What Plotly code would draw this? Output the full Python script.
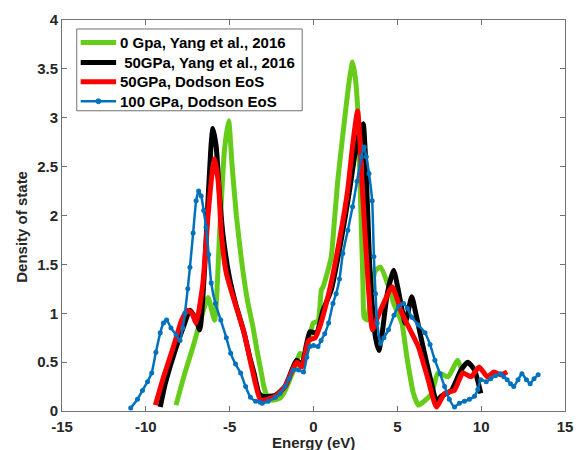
import plotly.graph_objects as go

# ---- data ----
x_0gpa = [-8.2, -7.67, -7.18, -6.69, -6.29, -5.9, -5.6, -5.31, -5.06, -4.85, -4.6, -4.3, -3.94, -3.6,
          -3.35, -3.1, -2.96, -2.76, -2.47, -2.0, -1.69, -1.4, -1.1, -0.81, -0.5, -0.22, -0.02, 0.27,
          0.47, 0.57, 0.8, 1.06, 1.25, 1.45, 1.7, 1.94, 2.15, 2.33, 2.5, 2.63, 2.82, 2.95, 3.02, 3.2,
          3.5, 3.7, 4.0, 4.49, 4.78, 5.27, 5.57, 5.96, 6.25, 6.6, 7.04, 7.43, 8.02, 8.6, 8.9]
y_0gpa = [0.06, 0.39, 0.66, 0.96, 1.16, 0.93, 1.82, 2.67, 2.97, 2.5, 2.0, 1.55, 1.13, 0.85,
          0.6, 0.38, 0.25, 0.15, 0.11, 0.13, 0.21, 0.33, 0.45, 0.59, 0.55, 0.76, 0.9, 0.92,
          1.24, 1.27, 1.4, 1.58, 1.95, 2.36, 2.75, 3.11, 3.4, 3.57, 3.4, 3.11, 2.09, 1.3, 0.96, 0.93,
          1.3, 1.44, 1.47, 1.27, 1.1, 0.9, 0.55, 0.18, 0.06, 0.1, 0.18, 0.39, 0.35, 0.52, 0.39]

x_50yang = [-9.14, -8.84, -8.25, -7.76, -7.37, -7.05, -6.78, -6.49, -6.29, -6.1, -6.0, -5.8, -5.6,
            -5.41, -5.02, -4.65, -4.14, -3.8, -3.55, -3.25, -3.0, -2.27, -1.7, -1.0, -0.7, -0.22,
            0.18, 0.57, 1.06, 1.6, 2.1, 2.45, 2.75, 2.96, 3.1, 3.22, 3.35, 3.51, 3.7, 3.9, 4.1, 4.4,
            4.78, 5.1, 5.47, 5.86, 6.1, 6.45, 7.04, 7.33, 7.6, 8.22, 8.8, 9.2, 9.6, 9.98]
y_50yang = [0.04, 0.28, 0.62, 0.86, 1.03, 0.95, 0.83, 1.47, 2.16, 2.74, 2.89, 2.7, 2.2,
            1.82, 1.37, 1.1, 0.8, 0.55, 0.39, 0.18, 0.15, 0.16, 0.25, 0.52, 0.47, 0.81,
            0.8, 1.03, 1.24, 1.7, 2.2, 2.6, 2.85, 2.94, 2.6, 2.09, 1.5, 1.07, 0.75, 0.62, 0.8, 1.2,
            1.44, 1.2, 0.9, 1.17, 1.0, 0.72, 0.28, 0.1, 0.15, 0.21, 0.42, 0.5, 0.42, 0.18]

x_50dodson = [-9.43, -8.94, -8.35, -7.86, -7.53, -7.25, -7.0, -6.6, -6.29, -6.0, -5.9, -5.67, -5.5,
              -5.2, -4.73, -4.14, -3.65, -3.16, -2.7, -2.2, -1.7, -1.3, -1.0, -0.7, -0.3, 0.1, 0.37,
              0.96, 1.55, 2.04, 2.37, 2.63, 2.92, 3.22, 3.51, 3.8, 4.1, 4.69, 5.27, 5.67, 6.25, 6.84,
              7.33, 7.82, 8.4, 8.9, 9.4, 9.88, 10.37, 10.76, 11.15, 11.55]
y_50dodson = [0.06, 0.35, 0.66, 0.93, 1.03, 1.0, 0.9, 1.3, 2.0, 2.5, 2.58, 2.33, 1.82,
              1.41, 1.13, 0.8, 0.42, 0.11, 0.12, 0.16, 0.25, 0.4, 0.5, 0.45, 0.72, 0.75, 0.86,
              1.24, 1.75, 2.26, 2.77, 3.07, 2.26, 1.41, 0.83, 0.95, 1.07, 1.27, 1.0, 0.86, 0.66, 0.32,
              0.04, 0.18, 0.21, 0.39, 0.35, 0.45, 0.35, 0.4, 0.37, 0.4]

x_100dodson = [-10.9, -10.5, -10.2, -9.9, -9.65, -9.4, -9.14, -8.95, -8.76, -8.5, -8.2, -7.96, -7.8,
               -7.67, -7.5, -7.37, -7.18, -7.0, -6.85, -6.7, -6.55, -6.41, -6.25, -6.1, -5.85, -5.53,
               -5.2, -4.94, -4.65, -4.35, -4.05, -3.76, -3.45, -3.18, -3.06, -2.7, -2.27, -2.0, -1.7,
               -1.45, -1.2, -0.9, -0.6, -0.4, -0.22, 0.0, 0.27, 0.45, 0.67, 0.9, 1.16, 1.35, 1.55, 1.75,
               2.05, 2.33, 2.6, 2.85, 3.02, 3.15, 3.31, 3.5, 3.6, 3.7, 3.8, 4.0, 4.2, 4.47, 4.8, 5.08,
               5.37, 5.6, 5.86, 6.25, 6.65, 6.95, 7.24, 7.55, 7.82, 8.1, 8.41, 8.7, 9.0, 9.3, 9.6, 9.8,
               9.98, 10.3, 10.57, 10.85, 11.15, 11.35, 11.55, 11.75, 11.94, 12.2, 12.43, 12.7, 12.92,
               13.15, 13.4]
y_100dodson = [0.03, 0.12, 0.21, 0.3, 0.39, 0.6, 0.8, 0.9, 0.93, 0.85, 0.78, 0.72, 0.85,
               1.0, 1.25, 1.47, 1.82, 2.15, 2.25, 2.2, 2.05, 1.88, 1.6, 1.31, 1.1, 0.93,
               0.75, 0.59, 0.48, 0.39, 0.25, 0.14, 0.1, 0.09, 0.08, 0.1, 0.14, 0.18, 0.25,
               0.33, 0.42, 0.42, 0.4, 0.55, 0.66, 0.67, 0.66, 0.72, 0.79, 0.9, 1.1, 1.2, 1.35, 1.61,
               1.85, 2.09, 2.35, 2.6, 2.7, 2.6, 2.43, 2.15, 1.58, 1.2, 0.9, 0.69, 0.75, 0.83, 0.98, 1.07,
               1.1, 1.05, 0.96, 0.88, 0.8, 0.68, 0.52, 0.38, 0.25, 0.12, 0.04, 0.08, 0.1, 0.12, 0.15, 0.22,
               0.32, 0.3, 0.33, 0.36, 0.38, 0.35, 0.32, 0.28, 0.25, 0.32, 0.38, 0.32, 0.28,
               0.33, 0.37]

names = ["0 Gpa, Yang et al., 2016", "\u00a050GPa, Yang et al., 2016",
         "50GPa, Dodson EoS", "100 GPa, Dodson EoS"]
colors = ["#66CC1A", "#000000", "#FF0000", "#0072BD"]
x_ticks = [-15, -10, -5, 0, 5, 10, 15]
x_ticklabels = ["-15", "-10", "-5", "0", "5", "10", "15"]
y_ticks = [0, 0.5, 1, 1.5, 2, 2.5, 3, 3.5, 4]
y_ticklabels = ["0", "0.5", "1", "1.5", "2", "2.5", "3", "3.5", "4"]

FONT = "Liberation Sans, Arial, sans-serif"
AXC = "#707070"
TXT = "#262626"

W, H = 584, 450
ML, MR, MT, MB = 62, 11, 19, 39
PW, PH = W - ML - MR, H - MT - MB


def px(xv):  # page pixel -> paper fraction
    return (xv - ML) / PW


def py(yv):
    return (H - MB - yv) / PH


fig = go.Figure()
series = [(x_0gpa, y_0gpa), (x_50yang, y_50yang), (x_50dodson, y_50dodson)]
for (xs, ys), nm, col in zip(series, names[:3], colors[:3]):
    fig.add_trace(go.Scatter(x=xs, y=ys, mode="lines", name=nm, showlegend=False,
                             line=dict(color=col, width=5, shape="spline", smoothing=0.5)))
fig.add_trace(go.Scatter(x=x_100dodson, y=y_100dodson, mode="lines+markers", name=names[3],
                         showlegend=False,
                         line=dict(color=colors[3], width=2.5, shape="spline", smoothing=0.5),
                         marker=dict(color=colors[3], size=5, symbol="circle")))

axis_common = dict(showline=True, linecolor=AXC, linewidth=1, mirror="ticks",
                   ticks="inside", ticklen=5, tickcolor=AXC, showgrid=False, zeroline=False,
                   tickfont=dict(family=FONT, size=15, color=TXT, weight="bold"))

# legend drawn by hand (box, samples, labels) to match the reference's compact layout
shapes = [dict(type="rect", xref="paper", yref="paper", x0=px(77), x1=px(306),
               y0=py(110), y1=py(28), line=dict(color=AXC, width=1), fillcolor="white", layer="above")]
annotations = []
row_y = [41.5, 61.5, 81, 100.5]
for nm, col, ry in zip(names, colors, row_y):
    lw = 2.5 if col == colors[3] else 5
    shapes.append(dict(type="line", xref="paper", yref="paper", x0=px(81), x1=px(117),
                       y0=py(ry), y1=py(ry), line=dict(color=col, width=lw), layer="above"))
    annotations.append(dict(text=nm, xref="paper", yref="paper", x=px(119), y=py(ry),
                            xanchor="left", yanchor="middle", showarrow=False,
                            font=dict(family=FONT, size=15, color="#000000", weight="bold")))
shapes.append(dict(type="circle", xref="paper", yref="paper", x0=px(96.5), x1=px(101.5),
                   y0=py(row_y[3] + 2.5), y1=py(row_y[3] - 2.5),
                   line=dict(color=colors[3], width=1), fillcolor=colors[3], layer="above"))

annotations += [
    dict(text="Energy (eV)", xref="paper", yref="paper", x=0.5, y=0, yshift=-21,
         xanchor="center", yanchor="top", showarrow=False,
         font=dict(family=FONT, size=15, color=TXT, weight="bold")),
    dict(text="Density of state", xref="paper", yref="paper", x=0, y=0.47, xshift=-30,
         xanchor="right", yanchor="middle", textangle=-90, showarrow=False,
         font=dict(family=FONT, size=15, color=TXT, weight="bold")),
]

fig.update_layout(
    width=W, height=H,
    margin=dict(l=ML, r=MR, t=MT, b=MB),
    paper_bgcolor="white", plot_bgcolor="white",
    showlegend=False,
    xaxis=dict(range=[-15, 15], tickvals=x_ticks, ticktext=x_ticklabels,
               ticklabelstandoff=2, **axis_common),
    yaxis=dict(range=[0, 4], tickvals=y_ticks, ticktext=y_ticklabels, **axis_common),
    shapes=shapes,
    annotations=annotations,
)

# place the figure at the window's top-left corner (no default page margin), no toolbar
fig.write_html("out.html", config={"displayModeBar": False},
               post_script="document.body.style.margin='0px';")
